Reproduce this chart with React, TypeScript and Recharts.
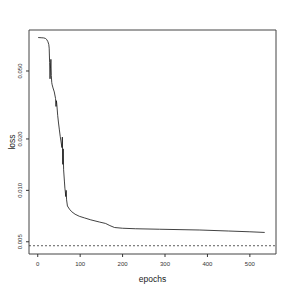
import { LineChart, Line, XAxis, YAxis, ReferenceLine, ReferenceArea } from "recharts";

const epochs = [
  1, 8, 14, 18, 21, 24, 26, 27, 28, 29, 30, 31, 32, 33, 34, 36, 39, 42, 43, 44, 45, 47, 49, 51, 53, 55,
  57, 58, 59, 60, 61, 63, 64, 65, 66, 67, 68, 70, 75, 80, 88, 98, 110, 125, 146, 160, 170, 181, 200, 230,
  287, 382, 450, 500, 535,
];
const losses = [
  0.0785, 0.0783, 0.0781, 0.0776, 0.0765, 0.0742, 0.0715, 0.068, 0.056, 0.045, 0.052, 0.0585, 0.047,
  0.0428, 0.0415, 0.0398, 0.0377, 0.0345, 0.031, 0.0335, 0.0318, 0.0275, 0.0248, 0.0226, 0.0207, 0.0192,
  0.0178, 0.0205, 0.0142, 0.0175, 0.0132, 0.0112, 0.0103, 0.0098, 0.0092, 0.01, 0.0088, 0.0081, 0.00775,
  0.0075, 0.00725, 0.00705, 0.0069, 0.00672, 0.00652, 0.0064, 0.00622, 0.00606, 0.006, 0.00596, 0.00592,
  0.00586, 0.00578, 0.00572, 0.00567,
];
const xTicks = [0, 100, 200, 300, 400, 500];
const yTicks = [0.005, 0.01, 0.02, 0.05];
const threshold = 0.00474;

const X_DOMAIN: [number, number] = [-20.6, 561.6];
const Y_DOMAIN: [number, number] = [0.00424, 0.0869];

const data = epochs.map((e, i) => ({ epoch: e, loss: losses[i] }));

const FONT = "'Liberation Sans', Arial, sans-serif";

function YTick({ x, y, payload }: any) {
  return (
    <text
      transform={`translate(${x},${y}) rotate(-90)`}
      textAnchor="middle"
      fontSize={6}
      fontFamily={FONT}
      fill="#333"
    >
      {Number(payload.value).toFixed(3)}
    </text>
  );
}

export default function App() {
  return (
    <div style={{ position: "absolute", left: 0, top: 0, width: 291, height: 291, background: "#fff" }}>
      <LineChart width={291} height={291} data={data} margin={{ top: 30, right: 15, left: 0, bottom: 0 }}>
        <XAxis
          type="number"
          dataKey="epoch"
          domain={X_DOMAIN}
          ticks={xTicks}
          allowDataOverflow
          axisLine={false}
          tickSize={3}
          tickMargin={5}
          height={37}
          stroke="#333"
          tick={{ fontSize: 6, fontFamily: FONT, fill: "#333" }}
          label={({ viewBox }: any) => (
            <text
              x={viewBox.x + viewBox.width / 2}
              y={viewBox.y + 28}
              textAnchor="middle"
              fontSize={8.5}
              fontFamily={FONT}
              fill="#222"
            >
              epochs
            </text>
          )}
        />
        <YAxis
          type="number"
          scale="log"
          domain={Y_DOMAIN}
          ticks={yTicks}
          allowDataOverflow
          axisLine={false}
          tickSize={3}
          tickMargin={4}
          width={29}
          stroke="#333"
          tick={<YTick />}
          label={({ viewBox }: any) => (
            <text
              transform={`translate(${viewBox.x + 15},${viewBox.y + viewBox.height / 2}) rotate(-90)`}
              textAnchor="middle"
              fontSize={8.5}
              fontFamily={FONT}
              fill="#222"
            >
              loss
            </text>
          )}
        />
        <ReferenceArea
          x1={X_DOMAIN[0]}
          x2={X_DOMAIN[1]}
          y1={Y_DOMAIN[0]}
          y2={Y_DOMAIN[1]}
          fill="none"
          stroke="#444"
          strokeWidth={1}
          ifOverflow="visible"
        />
        <ReferenceLine y={threshold} stroke="#333" strokeWidth={0.8} strokeDasharray="2 2" ifOverflow="visible" />
        <Line
          type="linear"
          dataKey="loss"
          stroke="#111"
          strokeWidth={0.8}
          dot={false}
          isAnimationActive={false}
        />
      </LineChart>
    </div>
  );
}
